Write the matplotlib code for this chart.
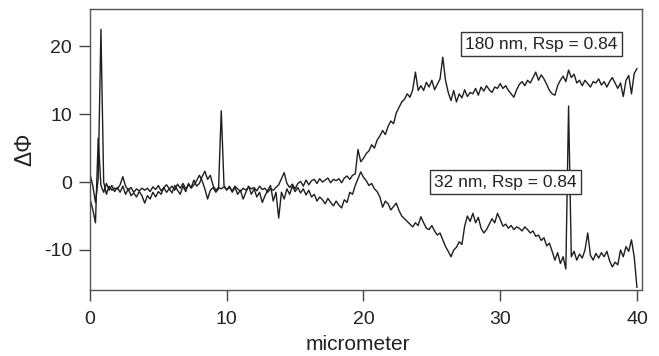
import numpy as np
import matplotlib
matplotlib.use("Agg")
import matplotlib.pyplot as plt

# x positions in micrometer (step 0.2)
x_um = np.round(np.arange(0, 40.001, 0.2), 1)

phi_180nm = [
    1.2, -0.5, -3.0, 0.5, 22.5, 0.0, -1.8, -0.6, -1.2, -0.9,
    -1.0, -0.4, 0.8, -0.6, -1.2, -0.8, -1.5, -1.0, -1.3, -0.9,
    -1.2, -0.9, -1.4, -0.7, -1.1, -0.5, -1.3, -0.8, -0.4, -1.0,
    -0.6, -1.2, -0.3, -0.9, -0.2, -1.0, -0.4, -0.8, 0.3, -0.6,
    -0.2, 0.8, 1.6, 0.4, 1.0, -0.5, -1.2, -0.8, -1.0, -0.7,
    -1.1, -0.8, -1.3, -0.6, -1.0, -1.4, -0.9, -1.2, -0.7, -1.0,
    -0.8, -1.3, -0.6, -1.1, -0.9, -1.5, -1.0, -1.2, -0.8, -0.4,
    0.5, 1.4, -0.2, -0.8, -0.3, -1.0, -0.2, 0.1, -0.6, 0.3,
    -0.4, 0.2, 0.4, -0.2, 0.5, 0.0, 0.3, 0.6, -0.1, 0.4,
    0.2, 0.5, -0.1, 0.6, 0.9, 0.4, 1.0, 1.2, 4.8, 3.0,
    3.5, 4.2, 4.6, 5.5, 5.0, 6.2, 6.8, 7.6, 7.0, 8.2,
    9.0, 8.6, 10.2, 11.0, 11.8, 12.2, 13.0, 12.5, 13.6, 16.2,
    13.5, 14.2, 13.5, 14.7, 14.0, 15.0, 13.6, 14.4, 15.2, 18.4,
    15.0, 13.2, 12.0, 13.5, 11.8, 13.0, 12.4, 13.6, 12.6, 13.2,
    13.0, 13.8, 12.8, 14.0, 13.4, 14.2, 13.6, 13.2, 14.0, 13.8,
    14.5, 13.8, 14.2, 13.5, 13.0, 12.5, 13.6, 14.4, 14.8, 14.2,
    15.0, 14.6, 15.4, 16.2, 15.0, 15.8, 15.2, 14.4, 13.5, 13.0,
    12.8, 14.2, 15.0, 15.6, 14.8, 16.5, 15.4, 15.9, 14.6, 15.0,
    14.2, 15.0, 14.5, 14.0, 14.8, 14.6, 15.2, 14.3, 14.8, 14.0,
    14.8, 15.4, 14.6, 13.8, 14.6, 12.6, 15.0, 15.7, 13.0, 16.0,
    16.7,
]

phi_32nm = [
    -2.5, -4.0, -6.0, 6.5, -0.5, -1.5, -0.2, -1.2, -0.5, -1.4,
    -0.8, -1.5, -0.6, -1.8, -1.0, -2.0, -1.6, -2.2, -1.4, -2.0,
    -3.1, -2.0, -2.5, -1.5, -2.2, -1.4, -1.8, -0.8, -1.5, -1.0,
    -1.6, -0.5, -1.2, -1.8, -0.6, -1.4, -0.2, -0.9, -0.4, 0.2,
    1.0, 0.2, -1.0, -2.5, -1.2, -0.8, -1.5, -1.0, 10.5, -0.5,
    -1.2, -0.6, -1.5, -0.8, -1.8, -1.2, -2.5, -1.5, -0.6, -1.8,
    -1.0, -2.2, -1.5, -3.0, -2.0, -1.2, -0.5, -2.8, -1.5, -5.3,
    -1.5, -2.5, -1.0, -1.8, -0.6, -1.4, -0.8, -1.6, -1.0, -1.9,
    -1.2, -2.2, -1.8, -2.8, -2.2, -2.6, -3.2, -2.4, -3.0, -3.5,
    -2.8, -3.4, -3.8, -2.6, -3.0, -1.5, -1.8, -0.5, 0.5, 1.5,
    0.7, 0.2, -0.5, -0.2, -1.0, -1.4, -2.2, -3.7, -2.8, -3.2,
    -4.1, -3.6, -3.1, -4.2, -5.0, -5.4, -5.8, -6.2, -6.6, -6.0,
    -6.4, -5.1, -6.0, -6.8, -7.0, -6.4, -7.2, -7.8, -7.5, -8.5,
    -9.5, -10.2, -11.0, -10.0, -9.6, -8.8, -9.2, -6.5, -5.0, -5.8,
    -4.6, -6.0, -5.2, -6.8, -7.5, -7.0, -6.2, -5.4, -6.0, -4.6,
    -5.5, -6.5, -6.2, -6.8, -6.4, -7.0, -6.6, -6.8, -7.2, -6.6,
    -7.0, -7.5, -7.2, -8.0, -7.8, -8.6, -8.2, -9.4, -9.0, -10.2,
    -11.5, -10.4, -12.0, -11.0, -12.8, 11.2, -11.0, -10.2, -11.5, -10.6,
    -11.2, -10.0, -7.5, -10.8, -11.5, -10.5, -11.2, -10.4, -11.0, -10.2,
    -11.6, -12.5, -11.8, -12.2, -10.0, -11.0, -9.5, -10.2, -8.5, -11.0,
    -15.5,
]

label_180 = "180 nm, Rsp = 0.84"
label_32 = "32 nm, Rsp = 0.84"
x_ticks = [0, 10, 20, 30, 40]
y_ticks = [-10, 0, 10, 20]

plt.rcParams['font.family'] = ['Liberation Sans', 'DejaVu Sans']
plt.rcParams['axes.unicode_minus'] = False

fig = plt.figure(figsize=(6.59, 3.56), dpi=100)
ax = fig.add_axes([90 / 659, 66 / 356, 552 / 659, 281 / 356])

line_color = '#1e1e1e'
ax.plot(x_um, phi_180nm, color=line_color, lw=1.0, zorder=2)
ax.plot(x_um, phi_32nm, color=line_color, lw=1.0, zorder=2)

ax.set_xlim(0, 40.37)
ax.set_ylim(-15.9, 25.5)
ax.set_xticks(x_ticks)
ax.set_yticks(y_ticks)
ax.tick_params(axis='both', direction='out', length=8, width=1.0,
               color='#444444', labelsize=14, labelcolor='#222222')
ax.tick_params(axis='x', pad=7)
ax.tick_params(axis='y', pad=5)

for s in ax.spines.values():
    s.set_color('#555555')
    s.set_linewidth(1.0)

ax.set_xlabel('micrometer', fontsize=15, color='#222222')
ax.xaxis.set_label_coords(268 / 552, -45 / 281)
ax.set_ylabel('ΔΦ', fontsize=16.5, color='#222222')
ax.yaxis.set_label_coords(-65 / 552, 0.5)
ax.yaxis.label.set_va('center')

bbox = dict(boxstyle='square,pad=0.25', facecolor='white', edgecolor='#333333', lw=1.0)
ax.text(33.0, 20.3, label_180, fontsize=12.5, ha='center', va='center',
        color='#222222', bbox=bbox, zorder=5)
ax.text(30.4, 0.0, label_32, fontsize=12.5, ha='center', va='center',
        color='#222222', bbox=bbox, zorder=5)

fig.savefig('out.png', dpi=100)
